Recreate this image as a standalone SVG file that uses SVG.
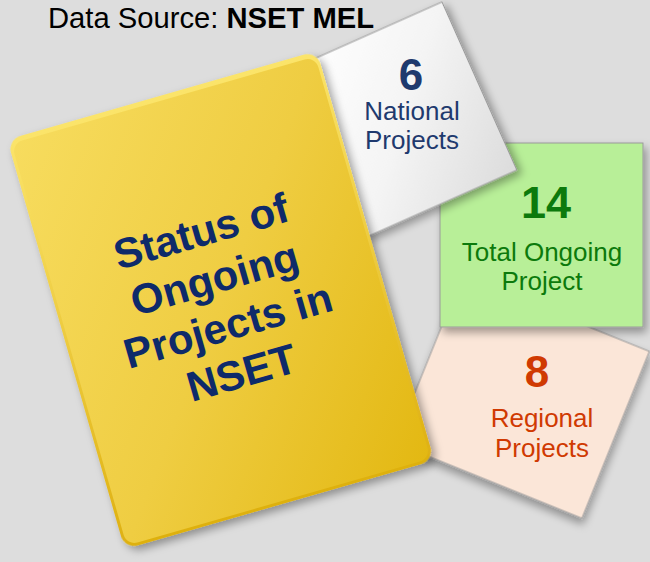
<svg xmlns="http://www.w3.org/2000/svg" width="650" height="562" viewBox="0 0 650 562">
  <defs>
    <linearGradient id="yFace" x1="0" y1="0" x2="1" y2="1">
      <stop offset="0" stop-color="#f7dc5e"/>
      <stop offset="0.5" stop-color="#efcd42"/>
      <stop offset="1" stop-color="#e3b812"/>
    </linearGradient>
    <linearGradient id="yEdge" x1="0" y1="0" x2="0" y2="1">
      <stop offset="0" stop-color="#fbe46a"/>
      <stop offset="1" stop-color="#deb010"/>
    </linearGradient>
    <linearGradient id="wFace" x1="0" y1="0" x2="1" y2="1">
      <stop offset="0" stop-color="#ffffff"/>
      <stop offset="0.5" stop-color="#f4f4f4"/>
      <stop offset="1" stop-color="#dcdcdc"/>
    </linearGradient>
    <filter id="shadow" x="-20%" y="-20%" width="140%" height="140%">
      <feDropShadow dx="3" dy="5" stdDeviation="4" flood-color="#000" flood-opacity="0.35"/>
    </filter>
  </defs>
  <style>
    .card { stroke: #9a9a9a; stroke-width: 1; filter: url(#shadow); }
    .num { font-family: "Liberation Sans", Arial, sans-serif; font-weight: bold; text-anchor: middle; }
    .lbl { font-family: "Liberation Sans", Arial, sans-serif; font-size: 26px; text-anchor: middle; }
    .title { font-family: "Liberation Sans", Arial, sans-serif; font-size: 42px; font-weight: bold; fill: #0e2a6a; text-anchor: middle; }
  </style>
  <rect width="650" height="562" fill="#dddddd"/>

  <text id="source" x="48" y="28" font-family="'Liberation Sans', Arial, sans-serif" font-size="29.2" fill="#000">Data Source: <tspan font-weight="bold">NSET MEL</tspan></text>

  <g id="regional">
    <rect class="card" x="-101" y="-90" width="202" height="180" fill="#fbe6d8" transform="translate(522,397) rotate(22)"/>
    <text class="num" x="537" y="387" font-size="44" fill="#d03a02">8</text>
    <text class="lbl" x="542" y="427" fill="#d03a02">Regional</text>
    <text class="lbl" x="542" y="457" fill="#d03a02">Projects</text>
  </g>

  <g id="total">
    <rect class="card" x="440" y="143" width="203" height="184" fill="#b8ef98"/>
    <text class="num" x="546" y="218" font-size="45" fill="#0c7a0c">14</text>
    <text class="lbl" x="542" y="261" fill="#0c7a0c">Total Ongoing</text>
    <text class="lbl" x="542" y="290" fill="#0c7a0c">Project</text>
  </g>

  <g id="national">
    <rect class="card" x="-82.5" y="-92" width="165" height="184" fill="url(#wFace)" transform="translate(404,119.6) rotate(-24)"/>
    <text class="num" x="411" y="90" font-size="44" fill="#1f3a6e">6</text>
    <text class="lbl" x="412" y="120" fill="#1f3a6e">National</text>
    <text class="lbl" x="412" y="149" fill="#1f3a6e">Projects</text>
  </g>

  <g id="status" transform="translate(221,301) rotate(-16)">
    <rect x="-161" y="-214" width="322" height="426" rx="14" fill="url(#yEdge)" filter="url(#shadow)"/>
    <rect x="-158" y="-209" width="316" height="418" rx="11" fill="url(#yFace)"/>
    <text class="title" x="0" y="-58">Status of</text>
    <text class="title" x="0" y="-9">Ongoing</text>
    <text class="title" x="0" y="40">Projects in</text>
    <text class="title" x="0" y="89">NSET</text>
  </g>
</svg>
